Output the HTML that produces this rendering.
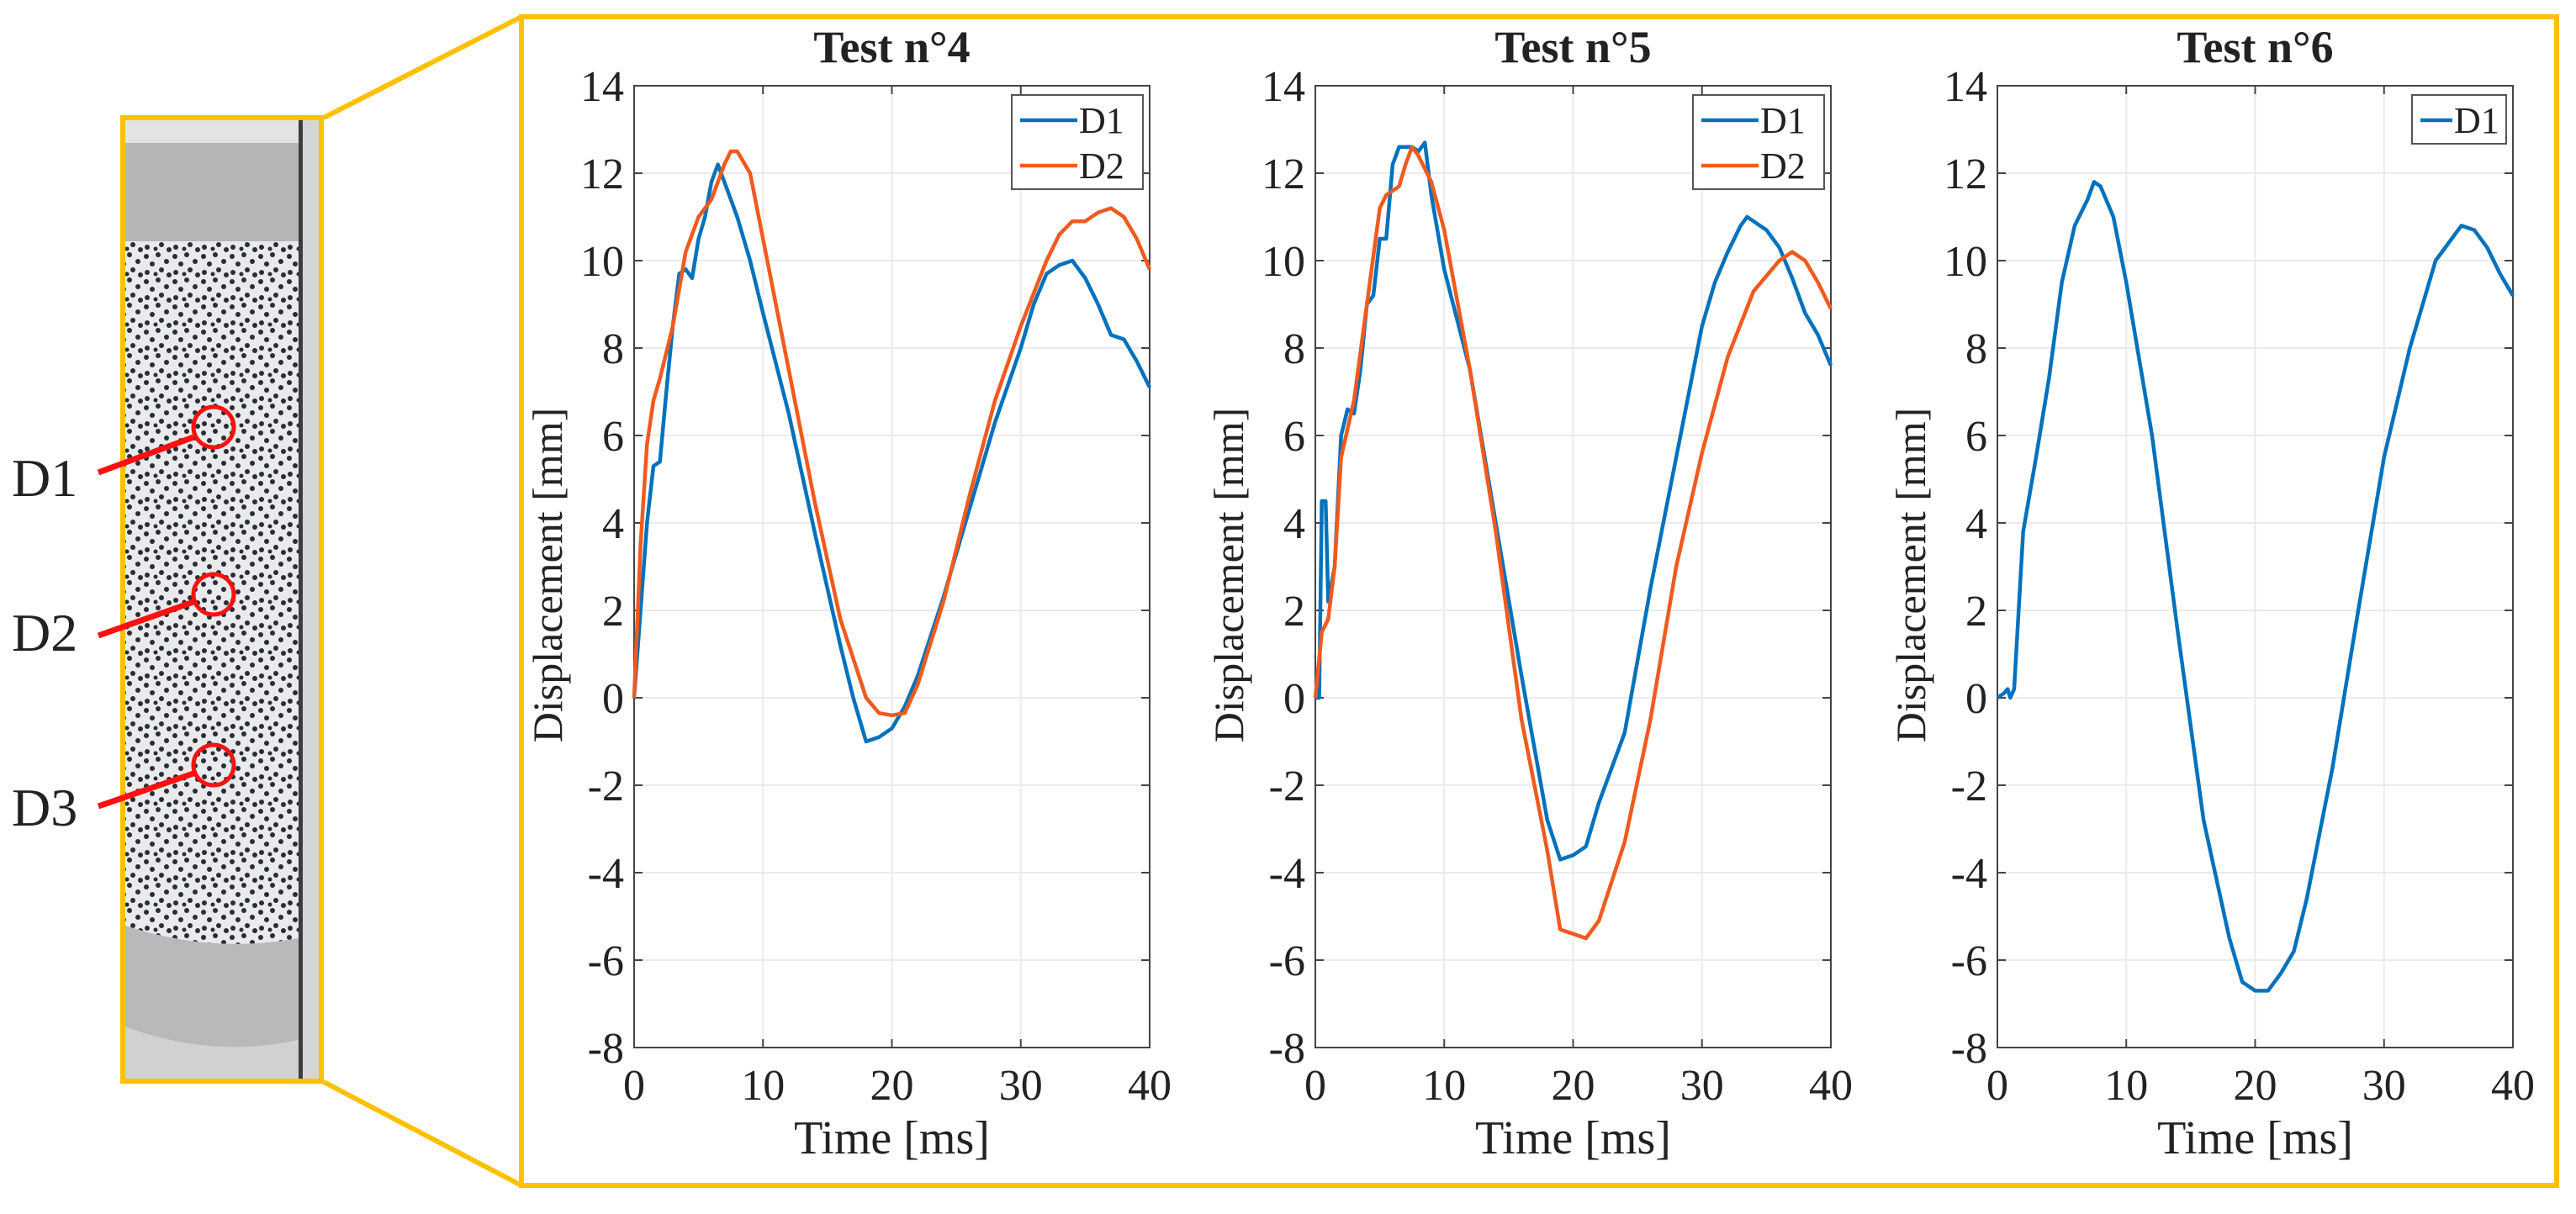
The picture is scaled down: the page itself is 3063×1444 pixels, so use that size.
<!DOCTYPE html>
<html><head><meta charset="utf-8"><style>
html,body{margin:0;padding:0;background:#fff;}
svg{display:block;}
text{font-family:"Liberation Serif",serif;fill:#222;}
</style></head><body>
<svg id="fig" width="3063" height="1444" viewBox="0 0 3063 1444" xmlns="http://www.w3.org/2000/svg">
<defs>
<pattern id="speck" width="34" height="30" patternUnits="userSpaceOnUse">
<rect width="34" height="30" fill="#e9eaec"/>
<circle cx="4" cy="5" r="3" fill="#2a2d33"/><circle cx="18" cy="3" r="3" fill="#2a2d33"/>
<circle cx="28" cy="11" r="3" fill="#2a2d33"/><circle cx="11" cy="14" r="3" fill="#2a2d33"/>
<circle cx="22" cy="21" r="3" fill="#2a2d33"/><circle cx="5" cy="24" r="3" fill="#2a2d33"/>
<circle cx="31" cy="27" r="3" fill="#2a2d33"/><circle cx="15" cy="26" r="2.5" fill="#2a2d33"/>
</pattern>
<clipPath id="photoclip"><rect x="146" y="140" width="236" height="1146"/></clipPath>
</defs>
<g id="photo" clip-path="url(#photoclip)">
<rect x="146" y="140" width="236" height="1146" fill="#cfd1d3"/>
<rect x="146" y="140" width="236" height="30" fill="#e2e3e5"/>
<rect x="146" y="170" width="236" height="117" fill="#b5b6b7"/>
<path d="M146 287 H382 V1110 Q264 1140 146 1100 Z" fill="url(#speck)"/>
<path d="M146 1100 Q264 1140 382 1110 V1230 Q264 1265 146 1220 Z" fill="#b8b9ba"/>
<rect x="355" y="140" width="5" height="1146" fill="#3a3c3e"/>
<rect x="360" y="140" width="22" height="1146" fill="#d4d5d6"/>
</g>
<rect x="146" y="140" width="236" height="1146" fill="none" stroke="#ffc000" stroke-width="6"/>
<polyline points="385,140 620,20" fill="none" stroke="#ffc000" stroke-width="6"/>
<polyline points="385,1287 620,1410" fill="none" stroke="#ffc000" stroke-width="6"/>
<rect x="620" y="20" width="2420" height="1390" fill="none" stroke="#ffc000" stroke-width="6"/>
<g>
<line x1="117" y1="562" x2="230" y2="520" stroke="#ff1010" stroke-width="7"/>
<circle cx="254" cy="508" r="24" fill="none" stroke="#ff1010" stroke-width="5"/>
<text x="14" y="590" font-size="64">D1</text></g>
<g>
<line x1="117" y1="756" x2="230" y2="716" stroke="#ff1010" stroke-width="7"/>
<circle cx="254" cy="707" r="24" fill="none" stroke="#ff1010" stroke-width="5"/>
<text x="14" y="774" font-size="64">D2</text></g>
<g>
<line x1="117" y1="959" x2="230" y2="920" stroke="#ff1010" stroke-width="7"/>
<circle cx="254" cy="910" r="24" fill="none" stroke="#ff1010" stroke-width="5"/>
<text x="14" y="982" font-size="64">D3</text></g>
<g id="charts"></g>
</svg>
<script>
const xTicks=[0,10,20,30,40];
const yTicks=[-8,-6,-4,-2,0,2,4,6,8,10,12,14];
const titles=["Test n°4","Test n°5","Test n°6"];
const t4d1=[0,0.5,1,1.5,2,2.5,3,3.5,4,4.5,5,5.5,6,6.5,7,8,9,10,12,14,16,17,18,19,20,21,22,24,26,28,30,31,32,33,34,35,36,37,38,39,40];
const v4d1=[0,2,4,5.3,5.4,7,8.5,9.7,9.8,9.6,10.5,11,11.8,12.2,11.8,11,10,8.8,6.5,3.8,1.2,0,-1,-0.9,-0.7,-0.2,0.5,2.3,4.3,6.3,8,9,9.7,9.9,10,9.6,9,8.3,8.2,7.7,7.1];
const t4d2=[0,0.5,1,1.5,2,3,4,5,6,7,7.5,8,9,10,12,14,16,18,19,20,21,22,24,26,28,30,32,33,34,35,36,37,38,39,40];
const v4d2=[0,3.5,5.8,6.8,7.3,8.5,10.2,11,11.4,12.2,12.5,12.5,12,10.5,7.5,4.5,1.8,0,-0.35,-0.4,-0.35,0.3,2.2,4.6,6.8,8.5,10,10.6,10.9,10.9,11.1,11.2,11,10.5,9.8];
const t5d1=[0,0.3,0.5,0.8,1,1.5,2,2.5,3,3.5,4,4.5,5,5.5,6,6.5,7,7.5,8,8.5,9,10,12,14,16,18,19,20,21,22,24,26,28,30,31,32,33,33.5,34,35,36,37,38,39,40];
const v5d1=[0,0,4.5,4.5,2.2,3,6,6.6,6.5,7.5,9,9.2,10.5,10.5,12.2,12.6,12.6,12.6,12.5,12.7,11.5,9.8,7.5,4,0.5,-2.8,-3.7,-3.6,-3.4,-2.4,-0.8,2.5,5.5,8.5,9.5,10.2,10.8,11,10.9,10.7,10.3,9.6,8.8,8.3,7.6];
const t5d2=[0,0.5,1,1.5,2,3,4,5,5.5,6.5,7,7.5,8,9,10,12,14,16,18,19,20,21,22,24,26,28,30,32,34,36,37,38,39,40];
const v5d2=[0,1.5,1.8,3,5.5,6.8,9,11.2,11.5,11.7,12.2,12.6,12.4,11.8,10.7,7.5,3.8,-0.5,-3.5,-5.3,-5.4,-5.5,-5.1,-3.3,-0.5,3,5.6,7.8,9.3,10,10.2,10,9.5,8.9];
const t6d1=[0,0.5,0.8,1,1.3,2,3,4,5,6,7,7.5,8,9,10,12,14,16,18,19,20,21,22,23,24,26,28,30,32,34,36,37,38,39,40];
const v6d1=[0,0.1,0.2,0,0.2,3.8,5.5,7.3,9.5,10.8,11.4,11.8,11.7,11,9.5,6,1.5,-2.8,-5.5,-6.5,-6.7,-6.7,-6.3,-5.8,-4.6,-1.6,2,5.5,8,10,10.8,10.7,10.3,9.7,9.2];
const series=[[[t4d1,v4d1,"D1"],[t4d2,v4d2,"D2"]],[[t5d1,v5d1,"D1"],[t5d2,v5d2,"D2"]],[[t6d1,v6d1,"D1"]]];
const colors={D1:"#0072BD",D2:"#F05A1E"};
const lefts=[754,1564,2375], plotW=613, plotTop=102, plotBot=1246;
const NS="http://www.w3.org/2000/svg";
const chartRoot=document.getElementById('charts');
function mk(tag,attrs,parent){const e=document.createElementNS(NS,tag);for(const k in attrs)e.setAttribute(k,attrs[k]);parent.appendChild(e);return e;}
lefts.forEach((L,i)=>{
  const sx=v=>L+(v-0)/(40-0)*plotW;
  const sy=v=>plotBot-(v+8)/22*(plotBot-plotTop);
  const g=mk('g',{},chartRoot);
  
  
  mk('rect',{x:L,y:plotTop,width:plotW,height:plotBot-plotTop,fill:'#fff'},g);
  xTicks.forEach(t=>{
    mk('line',{x1:sx(t),x2:sx(t),y1:plotTop,y2:plotBot,stroke:'#ebebeb','stroke-width':2},g);
    mk('line',{x1:sx(t),x2:sx(t),y1:plotBot,y2:plotBot-10,stroke:'#444','stroke-width':2},g);
    mk('line',{x1:sx(t),x2:sx(t),y1:plotTop,y2:plotTop+10,stroke:'#444','stroke-width':2},g);
    const tx=mk('text',{x:sx(t),y:plotBot+62,'font-size':52,'text-anchor':'middle'},g);tx.textContent=t;
    
    
  });
  yTicks.forEach(t=>{
    mk('line',{x1:L,x2:L+plotW,y1:sy(t),y2:sy(t),stroke:'#ebebeb','stroke-width':2},g);
    mk('line',{x1:L,x2:L+10,y1:sy(t),y2:sy(t),stroke:'#444','stroke-width':2},g);
    mk('line',{x1:L+plotW,x2:L+plotW-10,y1:sy(t),y2:sy(t),stroke:'#444','stroke-width':2},g);
    const tx=mk('text',{x:L-12,y:sy(t)+18,'font-size':52,'text-anchor':'end'},g);tx.textContent=t;
    
    
  });
  mk('rect',{x:L,y:plotTop,width:plotW,height:plotBot-plotTop,fill:'none',stroke:'#444','stroke-width':2},g);
  series[i].forEach(s=>{
    const p=mk('polyline',{points:s[0].map((t,k)=>sx(t)+','+sy(s[1][k])).join(' '),fill:'none',stroke:colors[s[2]],'stroke-width':4.5,'stroke-linejoin':'round'},g);
    
    
  });
  const ti=mk('text',{x:L+plotW/2,y:74,'font-size':54,'font-weight':'bold','text-anchor':'middle'},g);ti.textContent=titles[i];
  
  
  const xl=mk('text',{x:L+plotW/2,y:plotBot+126,'font-size':56,'text-anchor':'middle'},g);xl.textContent='Time [ms]';
  
  
  const yl=mk('text',{x:0,y:0,'font-size':50,'text-anchor':'middle',transform:`translate(${L-86},${(plotTop+plotBot)/2+10}) rotate(-90)`},g);yl.textContent='Displacement [mm]';
  
  
  const n=series[i].length, lw=i==2?112:156, lx=L+plotW-lw-8, ly=113;
  const lg=mk('g',{},g);
  
  
  mk('rect',{x:lx,y:ly,width:lw,height:n*54+4,fill:'#fff',stroke:'#555','stroke-width':2},lg);
  series[i].forEach((s,k)=>{
    const yy=ly+30+k*54;
    mk('line',{x1:lx+10,x2:lx+(i==2?48:78),y1:yy,y2:yy,stroke:colors[s[2]],'stroke-width':4.5},lg);
    const lt=mk('text',{x:lx+(i==2?50:80),y:yy+15,'font-size':44},lg);lt.textContent=s[2];
    
    
  });
});
</script>
</body></html>
